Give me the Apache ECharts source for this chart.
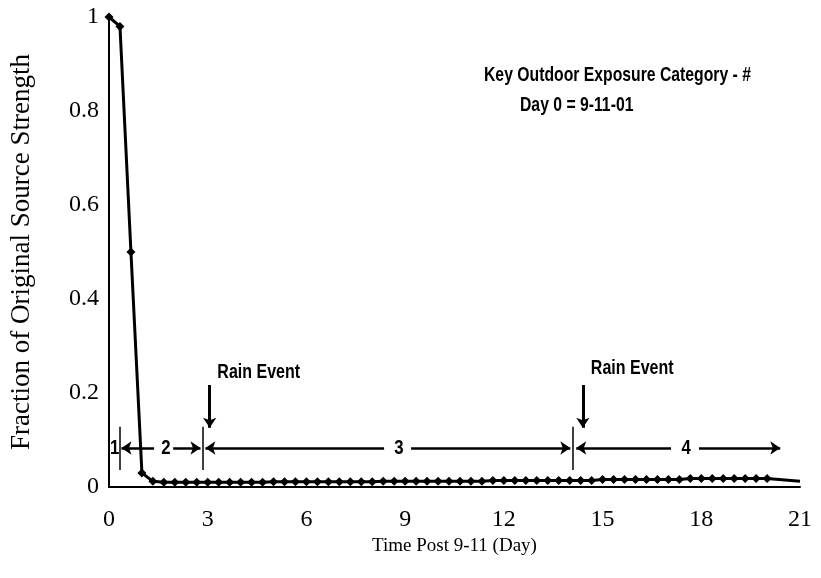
<!DOCTYPE html>
<html>
<head>
<meta charset="utf-8">
<script src="https://cdn.jsdelivr.net/npm/echarts@6/dist/echarts.min.js"></script>
<style>
  html, body { margin: 0; padding: 0; background: #fff; }
</style>
</head>
<body>
<div id="sourceStrength" style="width: 821px;height: 578px;"></div>
<script>
// fraction of source strength, one reading every 8 hours (1/3 day) from day 0 to day 20
const strength = [
  1.0, 0.98, 0.5, 0.03, 0.012,
  0.010, 0.010, 0.010, 0.010, 0.010, 0.010, 0.010, 0.010, 0.010, 0.010,
  0.011, 0.011, 0.011, 0.011, 0.011, 0.011, 0.011, 0.011, 0.011, 0.011,
  0.012, 0.012, 0.012, 0.012, 0.012, 0.012, 0.012, 0.012, 0.012, 0.012,
  0.014, 0.014, 0.014, 0.014, 0.014, 0.014, 0.014, 0.014, 0.014, 0.014,
  0.016, 0.016, 0.016, 0.016, 0.016, 0.016, 0.016, 0.016,
  0.018, 0.018, 0.018, 0.018, 0.018, 0.018, 0.018, 0.018
]
const endDay = 21
const endValue = 0.012

const yTicks = [0, 0.2, 0.4, 0.6, 0.8, 1]

// exposure category boundaries (day)
const boundaries = [0.33, 2.85, 14.1]
// category arrows [from day, to day] at the arrow row
const arrows = [[1.37, 0.38], [1.95, 2.78], [8.36, 2.93], [9.18, 14.02], [17.08, 14.2], [17.93, 20.4]]
const categoryLabels = [['1', 0.17], ['2', 1.73], ['3', 8.81], ['4', 17.54]]
const rainDays = [3.06, 14.4]
const rainLabels = [[4.55, 0.243], [15.9, 0.253]]

const arrowRow = 0.083
const boundaryTop = 0.128
const boundaryBottom = 0.036
const rainTop = 0.217
const rainBottom = 0.126

let seriesData = strength.map((v, i) => [i / 3, v])
seriesData.push({value: [endDay, endValue], symbol: 'none'})

let markLines = []
boundaries.forEach(d => {
  markLines.push([
    {coord: [d, boundaryTop], symbol: 'none', lineStyle: {width: 1.5}},
    {coord: [d, boundaryBottom], symbol: 'none'}
  ])
})
arrows.forEach(a => {
  markLines.push([
    {coord: [a[0], arrowRow], symbol: 'none'},
    {coord: [a[1], arrowRow], symbol: 'arrow'}
  ])
})
rainDays.forEach(d => {
  markLines.push([
    {coord: [d, rainTop], symbol: 'none', lineStyle: {width: 3}},
    {coord: [d, rainBottom], symbol: 'arrow'}
  ])
})

const serif = "'Liberation Serif', 'Times New Roman', serif"
const sans = "'Liberation Sans', Arial, sans-serif"

let option = {
  animation: false,
  grid: {left: 105, right: 21, top: 17, bottom: 91},
  xAxis: {
    type: 'value',
    min: 0,
    max: 21,
    interval: 3,
    name: 'Time Post 9-11 (Day)',
    nameLocation: 'middle',
    nameGap: 47,
    nameTextStyle: {fontFamily: serif, fontSize: 19, color: '#000'},
    axisLine: {lineStyle: {color: '#000', width: 2}},
    axisTick: {show: false},
    axisLabel: {fontFamily: serif, fontSize: 24, color: '#000', margin: 21},
    splitLine: {show: false}
  },
  yAxis: {
    type: 'value',
    min: 0,
    max: 1,
    interval: 0.2,
    name: 'Fraction of Original Source Strength',
    nameLocation: 'middle',
    nameGap: 74,
    nameTextStyle: {fontFamily: serif, fontSize: 27, color: '#000'},
    axisLine: {show: true, lineStyle: {color: '#000', width: 2}},
    axisTick: {show: false},
    axisLabel: {
      fontFamily: serif, fontSize: 24, color: '#000', margin: 10,
      formatter: function (value) {
        let v = Math.round(value * 10) / 10
        return yTicks.indexOf(v) >= 0 ? String(v) : ''
      }
    },
    splitLine: {show: false}
  },
  series: [
    {
      type: 'line',
      data: seriesData,
      symbol: 'diamond',
      symbolSize: 9,
      showAllSymbol: true,
      itemStyle: {color: '#000'},
      lineStyle: {color: '#000', width: 3},
      markLine: {
        silent: true,
        symbolSize: 10,
        label: {show: false},
        lineStyle: {color: '#000', width: 2.5, type: 'solid'},
        data: markLines
      }
    }
  ]
}

let chart = echarts.init(document.getElementById('sourceStrength'), null, {width: 821, height: 578})
chart.setOption(option)

// annotation text, placed from data coordinates
function note(text, day, value, size, sx) {
  let p = chart.convertToPixel({gridIndex: 0}, [day, value])
  return {
    type: 'text', x: p[0], y: p[1], scaleX: sx, silent: true,
    style: {text: text, fontFamily: sans, fontSize: size, fontWeight: 'bold', fill: '#000', align: 'center', verticalAlign: 'middle'}
  }
}

let graphics = [
  {
    type: 'text', x: 484, y: 75, scaleX: 0.75, silent: true,
    style: {text: 'Key Outdoor Exposure Category - #', fontFamily: sans, fontSize: 21, fontWeight: 'bold', fill: '#000', verticalAlign: 'middle'}
  },
  {
    type: 'text', x: 520, y: 105, scaleX: 0.75, silent: true,
    style: {text: 'Day 0 = 9-11-01', fontFamily: sans, fontSize: 21, fontWeight: 'bold', fill: '#000', verticalAlign: 'middle'}
  }
]
categoryLabels.forEach(c => graphics.push(note(c[0], c[1], arrowRow, 21, 0.8)))
rainLabels.forEach(r => graphics.push(note('Rain Event', r[0], r[1], 20, 0.8)))

chart.setOption({graphic: graphics})
</script>
</body>
</html>
